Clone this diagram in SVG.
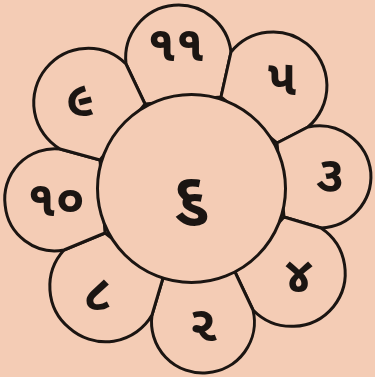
<svg xmlns="http://www.w3.org/2000/svg" width="375" height="377" viewBox="0 0 375 377">
<style>
.petal{fill:#f4ccb5;stroke:#1b1512;stroke-width:3;stroke-linejoin:round}
.hub{fill:#f4ccb5;stroke:#1b1512;stroke-width:3}
.num{font-family:"Noto Sans Gujarati","Lohit Gujarati","Noto Sans",sans-serif;font-size:50px;font-weight:bold;fill:#1b1512;text-anchor:middle}
.big{font-size:66px}
</style>
<rect width="375" height="377" fill="#f4ccb5"/>
<g id="connectors"/>
<g id="petal-11">
<path class="petal" d="M126,64 A53,53 0 0 1 173.7,5.3 A53,53 0 0 1 231,52 L221,97 L145,104 Z"/>
<text class="num" x="176" y="61">૧૧</text>
</g>
<g id="petal-5">
<path class="petal" d="M231,52 A54,54 0 0 1 306.6,43.7 A54,54 0 0 1 308,127 L277,143 L221,97 Z"/>
<text class="num" x="282" y="95">૫</text>
</g>
<g id="petal-3">
<path class="petal" d="M308,127 A52,52 0 0 1 370.8,172.5 A52,52 0 0 1 321,228 L284,217 L277,143 Z"/>
<text class="num" x="330" y="191">૩</text>
</g>
<g id="petal-4">
<path class="petal" d="M321,228 A54,54 0 0 1 333.4,306.7 A54,54 0 0 1 253,310 L235,272 L284,217 Z"/>
<text class="num" x="299" y="292">૪</text>
</g>
<g id="petal-2">
<path class="petal" d="M253,310 A51,51 0 0 1 207.2,372.8 A51,51 0 0 1 152,315 L163,278 L235,272 Z"/>
<text class="num" x="203" y="341">૨</text>
</g>
<g id="petal-8">
<path class="petal" d="M152,315 A54,54 0 0 1 69.2,327.9 A54,54 0 0 1 64,250 L105,233 L163,278 Z"/>
<text class="num" x="98" y="310">૮</text>
</g>
<g id="petal-10">
<path class="petal" d="M64,250 A50,50 0 0 1 5.2,205.7 A50,50 0 0 1 60,149 L100,160 L105,233 Z"/>
<text class="num" x="56" y="216">૧૦</text>
</g>
<g id="petal-9">
<path class="petal" d="M60,149 A54,54 0 0 1 46,68.4 A54,54 0 0 1 126,64 L145,104 L100,160 Z"/>
<text class="num" x="80" y="116">૯</text>
</g>
<g id="center-6">
<circle class="hub" cx="191.5" cy="188.5" r="94"/>
<text class="num big" x="191" y="219">૬</text>
</g>
</svg>
